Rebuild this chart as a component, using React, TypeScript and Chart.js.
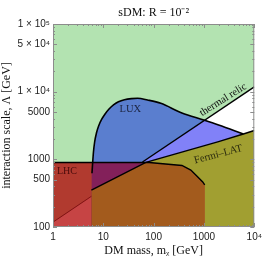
import { useEffect, useRef } from "react";
import { Chart, registerables } from "chart.js";

Chart.register(...registerables);

// ---- tick values / labels ----
const xTicks = [1, 10, 100, 1000, 10000];
const xTickLabels = ["1", "10", "100", "1000", "10⁴"];
const yTicks = [100, 500, 1000, 5000, 10000, 50000, 100000];
const yTickLabels = ["100", "500", "1000", "5000", "1 × 10⁴", "5 × 10⁴", "1 × 10⁵"];

// ---- region boundaries: [m_chi (GeV), Lambda (GeV)] ----
const skyTop: number[][] = [[1, 100000], [10000, 100000]];
const relicLine: number[][] = [[1, 118], [10000, 11800]];
const relicInLHC: number[][] = [[1, 118], [5.79, 284]];
const relicVisible: number[][] = [[60, 914], [10000, 11800]];
const luxEdge: number[][] = [
  [5.95, 622], [6.14, 891], [6.37, 1283], [6.72, 1804], [7.3, 2449], [8.06, 3109],
  [9.24, 3879], [10.83, 4677], [12.98, 5542], [15.92, 6394], [19.98, 7085], [26.22, 7606],
  [36.04, 7899], [47.96, 7980], [75.5, 7530], [138.7, 6730], [364.5, 4838], [988.8, 3812],
  [1953, 3216], [6070, 2367],
];
const luxArea: number[][] = [[5.8, 622], ...luxEdge];
const luxBelowRelic: number[][] = [[5.8, 284], [1025, 3778], [1953, 3216], [6070, 2367]];
const fermiEdge: number[][] = [[5.79, 352], [70, 900], [1953, 1824], [6070, 2367], [10000, 2667]];
const lhcEdge: number[][] = [
  [1, 900], [81.5, 900], [365, 811], [548, 695], [688, 586], [945, 463], [1035, 418],
];
const lhcAndLux: number[][] = [[5.8, 622], [5.95, 622], [6.14, 900], [70, 900]];
const lhcAndFermi: number[][] = [
  [5.79, 352], [70, 900], [81.5, 900], [365, 811], [548, 695], [688, 586], [945, 463], [1035, 418],
];

// ---- text annotations (data coordinates) ----
const regionLabels = [
  { text: "LUX", m: 34.4, L: 5546, angle: 0, color: "#1c2440", size: 10.5 },
  { text: "LHC", m: 1.89, L: 672, angle: 0, color: "#4a0c0c", size: 10 },
  { text: "Fermi–LAT", m: 1928, L: 1178, angle: -15, color: "#2a2a0e", size: 10.5 },
  { text: "thermal relic", m: 2400, L: 7600, angle: -32, color: "#111111", size: 10.5 },
];

const pts = (a: number[][]) => a.map(([x, y]) => ({ x, y }));

const fillSet = (data: number[][], color: string, extra: any = {}) => ({
  data: pts(data),
  showLine: true,
  fill: "start",
  backgroundColor: color,
  borderColor: "rgba(0,0,0,0)",
  borderWidth: 0,
  pointRadius: 0,
  pointHoverRadius: 0,
  ...extra,
});

const lineSet = (data: number[][], color: string, width: number, extra: any = {}) => ({
  data: pts(data),
  showLine: true,
  fill: false,
  borderColor: color,
  borderWidth: width,
  pointRadius: 0,
  pointHoverRadius: 0,
  ...extra,
});

const framePlugin = {
  id: "frameAndLabels",
  afterDatasetsDraw(chart: any) {
    const { ctx, chartArea: a, scales } = chart;
    const xs = scales.x;
    const ys = scales.y;
    ctx.save();
    ctx.strokeStyle = "#8c8c8c";
    ctx.lineWidth = 1;
    ctx.strokeRect(a.left + 0.5, a.top + 0.5, a.right - a.left - 1, a.bottom - a.top - 1);
    ctx.beginPath();
    for (let d = 1; d <= 10000; d *= 10) {
      for (let k = 1; k < 10; k++) {
        const v = d * k;
        if (v > 10000) break;
        const px = Math.round(xs.getPixelForValue(v)) + 0.5;
        const len = k === 1 ? 4 : 2;
        ctx.moveTo(px, a.bottom); ctx.lineTo(px, a.bottom - len);
        ctx.moveTo(px, a.top); ctx.lineTo(px, a.top + len);
      }
    }
    for (let d = 100; d <= 100000; d *= 10) {
      for (let k = 1; k < 10; k++) {
        const v = d * k;
        if (v > 100000) break;
        const py = Math.round(ys.getPixelForValue(v)) + 0.5;
        const len = k === 1 || k === 5 ? 4 : 2;
        ctx.moveTo(a.left, py); ctx.lineTo(a.left + len, py);
        ctx.moveTo(a.right, py); ctx.lineTo(a.right - len, py);
      }
    }
    ctx.stroke();
    for (const lab of regionLabels) {
      const px = xs.getPixelForValue(lab.m);
      const py = ys.getPixelForValue(lab.L);
      ctx.save();
      ctx.translate(px, py);
      ctx.rotate((lab.angle * Math.PI) / 180);
      ctx.font = `${lab.size}px "Liberation Serif", serif`;
      ctx.fillStyle = lab.color;
      ctx.textAlign = "center";
      ctx.textBaseline = "middle";
      ctx.fillText(lab.text, 0, 0);
      ctx.restore();
    }
    ctx.restore();
  },
};

export default function App() {
  const ref = useRef<HTMLCanvasElement | null>(null);
  useEffect(() => {
    if (!ref.current) return;
    const serif = '"Liberation Serif", serif';
    const chart = new Chart(ref.current, {
      type: "scatter",
      data: {
        datasets: [
          lineSet(relicInLHC, "#7e1212", 1),
          lineSet(relicVisible, "#000000", 1.4),
          lineSet(fermiEdge, "#000000", 1.4),
          lineSet(luxEdge, "#000000", 1.6, { cubicInterpolationMode: "monotone" }),
          lineSet(lhcEdge, "#000000", 1.4),
          fillSet(lhcAndFermi, "#a35b1d"),
          fillSet(lhcAndLux, "#83205a"),
          fillSet(relicInLHC, "#c64444"),
          fillSet(lhcEdge, "#b13a2f"),
          fillSet(fermiEdge, "#a19f31"),
          fillSet(luxBelowRelic, "#8181f8"),
          fillSet(luxArea, "#5a7ecf", { cubicInterpolationMode: "monotone" }),
          fillSet(relicLine, "#ffffff"),
          fillSet(skyTop, "#b3e3b1"),
        ] as any,
      },
      options: {
        responsive: false,
        animation: false,
        devicePixelRatio: 1,
        events: [],
        layout: { padding: { left: 0, right: 10, top: 0, bottom: 0 } },
        plugins: {
          legend: { display: false },
          tooltip: { enabled: false },
          title: {
            display: true,
            text: "sDM: R = 10⁻²",
            fullSize: false,
            color: "#111",
            font: { family: serif, size: 12, weight: "normal" },
            padding: { top: 6, bottom: 3.6 },
          },
        },
        scales: {
          x: {
            type: "logarithmic",
            min: 1,
            max: 10000,
            grid: { display: false, drawTicks: false },
            border: { display: false },
            afterBuildTicks: (s: any) => {
              s.ticks = xTicks.map((v) => ({ value: v }));
            },
            afterFit: (s: any) => {
              s.height = 37;
            },
            ticks: {
              autoSkip: false,
              maxRotation: 0,
              padding: 4,
              color: "#222",
              font: { family: '"Liberation Sans", sans-serif', size: 10 },
              callback: (_v: any, i: number) => xTickLabels[i],
            },
            title: {
              display: true,
              text: "DM mass, mᵪ [GeV]",
              color: "#111",
              font: { family: serif, size: 12 },
              padding: { top: 0, bottom: 6 },
            },
          },
          y: {
            type: "logarithmic",
            min: 100,
            max: 100000,
            grid: { display: false, drawTicks: false },
            border: { display: false },
            afterBuildTicks: (s: any) => {
              s.ticks = yTicks.map((v) => ({ value: v }));
            },
            afterFit: (s: any) => {
              s.width = 53;
            },
            ticks: {
              autoSkip: false,
              padding: 3,
              color: "#222",
              font: { family: '"Liberation Sans", sans-serif', size: 10 },
              callback: (_v: any, i: number) => yTickLabels[i],
            },
            title: {
              display: true,
              text: "interaction scale, Λ [GeV]",
              color: "#111",
              font: { family: serif, size: 12 },
              padding: { top: 0, bottom: 0 },
            },
          },
        },
      } as any,
      plugins: [framePlugin],
    });
    return () => chart.destroy();
  }, []);
  return (
    <div style={{ position: "fixed", left: 0, top: 0, width: 266, height: 264 }}>
      <canvas ref={ref} width={266} height={264} style={{ width: 266, height: 264, display: "block" }} />
    </div>
  );
}
